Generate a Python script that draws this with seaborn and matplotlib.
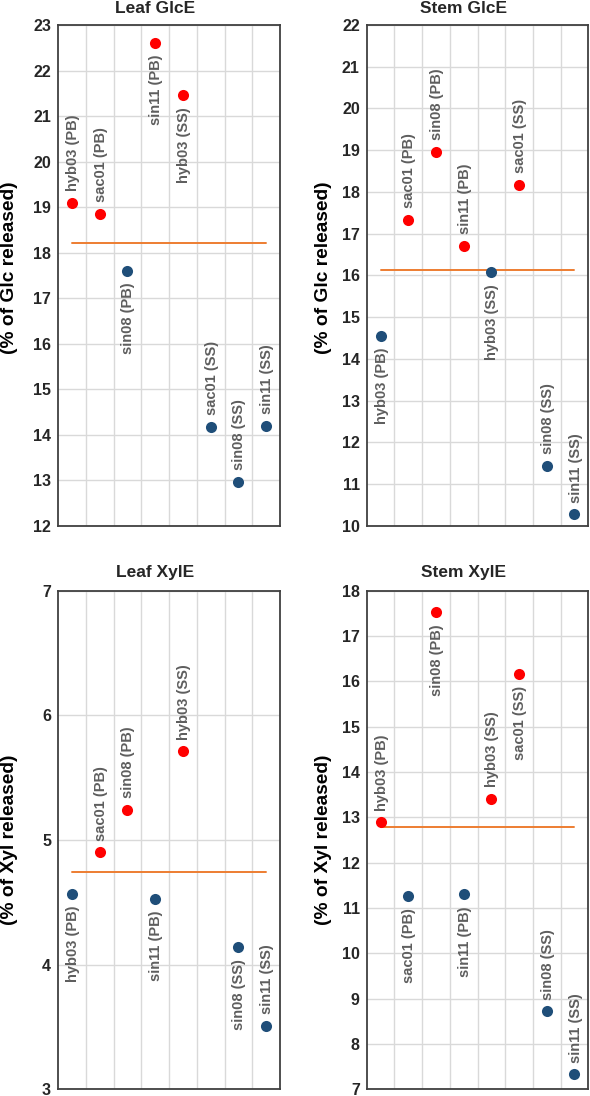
import numpy as np
import pandas as pd
import matplotlib
matplotlib.use("Agg")
import matplotlib.pyplot as plt
import seaborn as sns

categories = ["hyb03 (PB)", "sac01 (PB)", "sin08 (PB)", "sin11 (PB)",
              "hyb03 (SS)", "sac01 (SS)", "sin08 (SS)", "sin11 (SS)"]

leaf_glce = [19.10, 18.85, 17.60, 22.61, 21.46, 14.17, 12.96, 14.19]
stem_glce = [14.55, 17.33, 18.95, 16.70, 16.07, 18.17, 11.44, 10.27]
leaf_xyle = [4.57, 4.90, 5.24, 4.53, 5.71, np.nan, 4.14, 3.51]
stem_xyle = [12.89, 11.26, 17.52, 11.30, 13.40, 16.17, 8.72, 7.33]

# where each point's label sits: "a" = above the point, "b" = below
leaf_glce_lab = ["a", "a", "b", "b", "b", "a", "a", "a"]
stem_glce_lab = ["b", "a", "a", "a", "b", "a", "a", "a"]
leaf_xyle_lab = ["b", "a", "a", "b", "a", "a", "b", "a"]
stem_xyle_lab = ["a", "b", "b", "b", "a", "b", "a", "a"]

ref_lines = [18.21, 16.14, 4.74, 12.78]
titles = ["Leaf GlcE", "Stem GlcE", "Leaf XylE", "Stem XylE"]
ylabels = ["(% of Glc released)", "(% of Glc released)",
           "(% of Xyl released)", "(% of Xyl released)"]
ylims = [(12, 23), (10, 22), (3, 7), (7, 18)]
series = [leaf_glce, stem_glce, leaf_xyle, stem_xyle]
label_pos = [leaf_glce_lab, stem_glce_lab, leaf_xyle_lab, stem_xyle_lab]

sns.set_theme(style="white")
plt.rcParams["font.family"] = ["Liberation Sans", "DejaVu Sans"]

W, H = 590, 1096
fig = plt.figure(figsize=(W / 100, H / 100), dpi=100)

# axes boxes in pixels: left, right, top, bottom
boxes = [(58, 280, 25, 525.7), (366.7, 588.3, 25, 525.7),
         (58, 280, 590.7, 1089.3), (366.7, 588.3, 590.7, 1089.3)]
ylab_x = [-0.182, -0.157, -0.182, -0.157]
ylab_y = [0.515, 0.515, 0.5, 0.5]
title_pad = [8.4, 8.4, 9.6, 9.6]

RED = "#FF0000"
BLUE = "#1F4E79"
ORANGE = "#ED7D31"
TXT = "#5E5E5E"

for k in range(4):
    l, r, t, b = boxes[k]
    ax = fig.add_axes([l / W, 1 - b / H, (r - l) / W, (b - t) / H])
    vals = series[k]
    ref = ref_lines[k]
    df = pd.DataFrame({"cat": categories, "val": vals})
    df["grp"] = np.where(df["val"] >= ref, "above", "below")
    sns.stripplot(data=df.dropna(), x="cat", y="val", hue="grp", order=categories,
                  hue_order=["above", "below"], palette={"above": RED, "below": BLUE},
                  jitter=False, size=8, linewidth=0, ax=ax, legend=False, zorder=3)
    n = len(categories)
    ax.plot([0, n - 1], [ref, ref], color=ORANGE, lw=1.4, zorder=2)
    for i, (c, v, p) in enumerate(zip(categories, vals, label_pos[k])):
        if np.isnan(v):
            continue
        up = p == "a"
        ax.annotate(c, (i, v), xytext=(0.8, 8.5 if up else -8.5), textcoords="offset points",
                    rotation=90, ha="center", va="bottom" if up else "top",
                    fontsize=10.5, color=TXT, fontweight="bold", zorder=4)
    ax.set_xlim(-0.5, n - 0.5)
    ax.set_ylim(*ylims[k])
    ax.set_yticks(np.arange(ylims[k][0], ylims[k][1] + 1, 1))
    ax.set_xticks([])
    ax.set_xticks(np.arange(n - 1) + 0.5, minor=True)
    ax.grid(True, which="minor", axis="x", color="#D9D9D9", lw=1)
    ax.grid(True, which="major", axis="y", color="#D9D9D9", lw=1)
    ax.set_axisbelow(True)
    ax.tick_params(axis="x", which="both", length=0, labelbottom=False)
    ax.tick_params(axis="y", length=0, pad=5, labelsize=11.5)
    for lab in ax.get_yticklabels():
        lab.set_fontweight("bold")
    ax.set_xlabel("")
    ax.set_ylabel(ylabels[k], fontsize=13.8, fontweight="bold", color="black")
    ax.yaxis.set_label_coords(ylab_x[k], ylab_y[k])
    ax.set_title(titles[k], fontsize=12.5, fontweight="bold", x=0.437, pad=title_pad[k])
    for s in ax.spines.values():
        s.set_color("#404040")
        s.set_linewidth(1.3)

fig.savefig("out.png", dpi=100)
